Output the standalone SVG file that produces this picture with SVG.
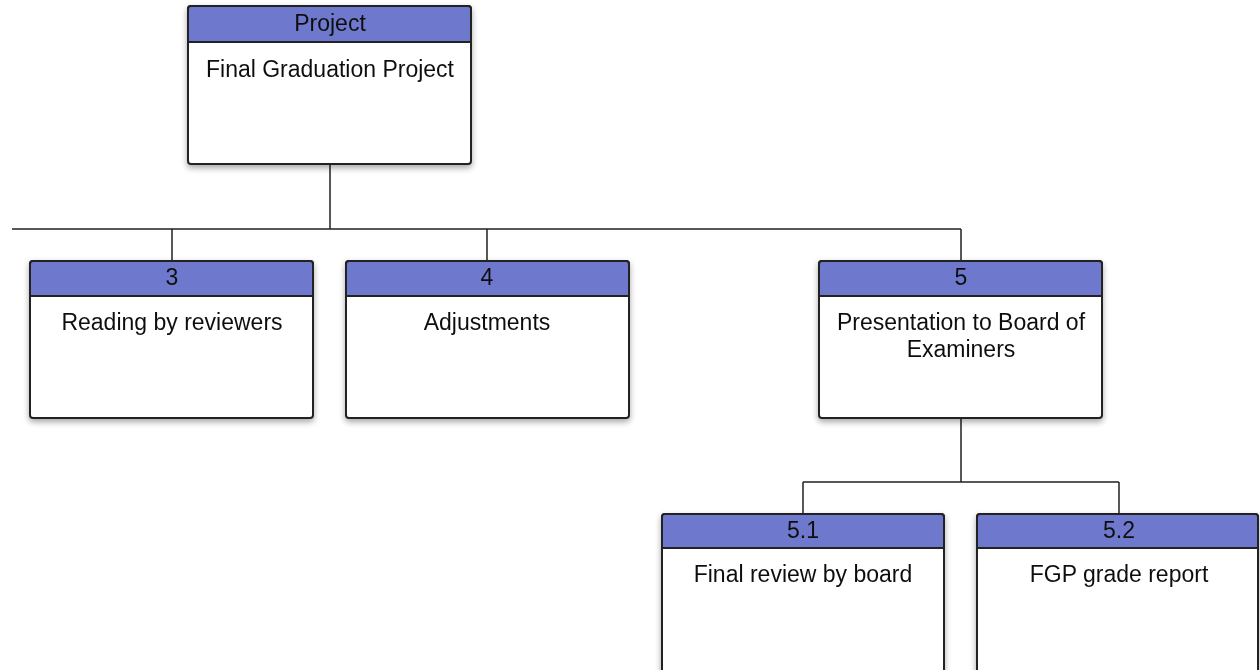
<svg xmlns="http://www.w3.org/2000/svg" width="1260" height="670" viewBox="0 0 1260 670">
  <defs>
    <filter id="shadow" x="-10%" y="-10%" width="120%" height="125%">
      <feGaussianBlur in="SourceAlpha" stdDeviation="3"/>
      <feOffset dx="0" dy="3" result="b"/>
      <feComponentTransfer><feFuncA type="linear" slope="0.35"/></feComponentTransfer>
      <feMerge><feMergeNode/><feMergeNode in="SourceGraphic"/></feMerge>
    </filter>
  </defs>
  <style>
    .box { fill: #ffffff; stroke: #222222; stroke-width: 2; }
    .head { fill: #6e79cd; stroke: #222222; stroke-width: 2; }
    .wire { fill: none; stroke: #222222; stroke-width: 1.5; }
    text { font-family: "Liberation Sans", Arial, sans-serif; font-size: 23px; fill: #111111; text-anchor: middle; }
  </style>
  <rect width="1260" height="670" fill="#ffffff"/>

  <!-- connectors -->
  <g id="connectors">
    <path class="wire" d="M330 164 V229 M12 229 H961 M172 229 V261 M487 229 V261 M961 229 V261"/>
    <path class="wire" d="M961 418 V482 M803 482 H1119 M803 482 V514 M1119 482 V514"/>
  </g>

  <!-- root -->
  <g id="node-project" filter="url(#shadow)">
    <rect class="box" x="188" y="6" width="283" height="158" rx="3"/>
    <path class="head" d="M191 6 H468 Q471 6 471 9 V42 H188 V9 Q188 6 191 6 Z"/>
    <text x="330" y="31">Project</text>
    <text x="330" y="77">Final Graduation Project</text>
  </g>

  <g id="node-3" filter="url(#shadow)">
    <rect class="box" x="30" y="261" width="283" height="157" rx="3"/>
    <path class="head" d="M33 261 H310 Q313 261 313 264 V296 H30 V264 Q30 261 33 261 Z"/>
    <text x="172" y="285">3</text>
    <text x="172" y="330">Reading by reviewers</text>
  </g>

  <g id="node-4" filter="url(#shadow)">
    <rect class="box" x="346" y="261" width="283" height="157" rx="3"/>
    <path class="head" d="M349 261 H626 Q629 261 629 264 V296 H346 V264 Q346 261 349 261 Z"/>
    <text x="487" y="285">4</text>
    <text x="487" y="330">Adjustments</text>
  </g>

  <g id="node-5" filter="url(#shadow)">
    <rect class="box" x="819" y="261" width="283" height="157" rx="3"/>
    <path class="head" d="M822 261 H1099 Q1102 261 1102 264 V296 H819 V264 Q819 261 822 261 Z"/>
    <text x="961" y="285">5</text>
    <text x="961" y="330">Presentation to Board of</text>
    <text x="961" y="357">Examiners</text>
  </g>

  <g id="node-5-1" filter="url(#shadow)">
    <rect class="box" x="662" y="514" width="282" height="170" rx="3"/>
    <path class="head" d="M665 514 H941 Q944 514 944 517 V548 H662 V517 Q662 514 665 514 Z"/>
    <text x="803" y="538">5.1</text>
    <text x="803" y="582">Final review by board</text>
  </g>

  <g id="node-5-2" filter="url(#shadow)">
    <rect class="box" x="977" y="514" width="281" height="170" rx="3"/>
    <path class="head" d="M980 514 H1255 Q1258 514 1258 517 V548 H977 V517 Q977 514 980 514 Z"/>
    <text x="1119" y="538">5.2</text>
    <text x="1119" y="582">FGP grade report</text>
  </g>
</svg>
